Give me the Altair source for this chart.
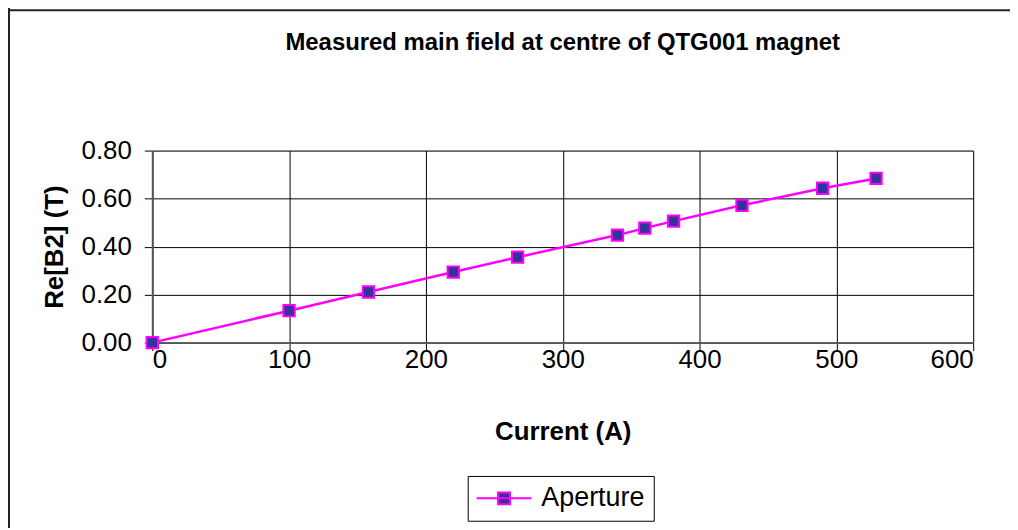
import altair as alt
import pandas as pd

current = [0, 100, 158, 220, 267, 340, 360, 381, 431, 490, 529]
field = [0.000, 0.133, 0.211, 0.294, 0.356, 0.448, 0.477, 0.506, 0.572, 0.643, 0.684]
series = ["Aperture"] * len(current)

x_ticks = [0, 100, 200, 300, 400, 500, 600]
y_ticks = [0.0, 0.2, 0.4, 0.6, 0.8]

df = pd.DataFrame({"Current": current, "Field": field, "Series": series})

FONT = "Liberation Sans, Arial, Helvetica, sans-serif"
MAGENTA = "#FF00FF"
NAVY = "#333399"

x = alt.X("Current:Q", title="Current (A)",
          scale=alt.Scale(domain=[0, 600], nice=False),
          axis=alt.Axis(values=x_ticks, format="d", labelFontSize=26, titleFontSize=26,
                        titleFontWeight="bold", labelPadding=-4, titlePadding=46,
                        tickSize=8, tickColor="black", domainColor="#555555", domainWidth=2,
                        gridColor="black", gridWidth=1, labelColor="black", titleColor="black"))
y = alt.Y("Field:Q", title="Re[B2] (T)",
          scale=alt.Scale(domain=[0, 0.8], nice=False),
          axis=alt.Axis(values=y_ticks, format=".2f", labelFontSize=26, titleFontSize=26,
                        titleFontWeight="bold", labelPadding=13, titlePadding=14,
                        tickSize=8, tickColor="black", domainColor="#555555", domainWidth=2,
                        gridColor="black", gridWidth=1, labelColor="black", titleColor="black"))

legend_path = "M-2.3,0H2.3M-0.5,-0.5H0.5V0.5H-0.5Z"

line = alt.Chart(df).mark_line(color=MAGENTA, strokeWidth=2.5).encode(
    x=x, y=y,
    color=alt.Color("Series:N",
                    scale=alt.Scale(domain=["Aperture"], range=[MAGENTA]),
                    legend=alt.Legend(title=None, orient="none", legendX=317, legendY=327,
                                      strokeColor="black", fillColor="white", padding=9,
                                      cornerRadius=0, symbolType=legend_path, symbolSize=576,
                                      symbolOffset=14, symbolStrokeWidth=2,
                                      symbolFillColor=NAVY, symbolStrokeColor=MAGENTA,
                                      labelFontSize=27, labelFont=FONT, labelColor="black",
                                      labelOffset=24))
)

points = alt.Chart(df).mark_point(shape="square", filled=True, size=130, fill=NAVY,
                                  stroke=MAGENTA, strokeWidth=2, opacity=1).encode(x=x, y=y)

frame = alt.Chart(alt.Data(values=[{"a": 1}]))
left_edge = frame.mark_rule(color="#222222", strokeWidth=2).encode(
    x=alt.value(-144), y=alt.value(-145), y2=alt.value(400))
top_edge = frame.mark_rule(color="#222222", strokeWidth=2).encode(
    x=alt.value(-145), x2=alt.value(862), y=alt.value(-141))

chart = alt.layer(line, points, left_edge, top_edge).properties(
    width=825, height=193,
    autosize="none",
    padding={"left": 145, "top": 142, "right": 37, "bottom": 185},
    title=alt.TitleParams("Measured main field at centre of QTG001 magnet",
                          fontSize=24, font=FONT, fontWeight="bold", color="black",
                          anchor="middle", baseline="bottom", offset=0, dy=74),
).configure_view(stroke="#808080", strokeWidth=2).configure_axis(
    labelFont=FONT, titleFont=FONT
).configure(background="white")

chart.save("out.html", embed_options={"renderer": "svg", "actions": False})
